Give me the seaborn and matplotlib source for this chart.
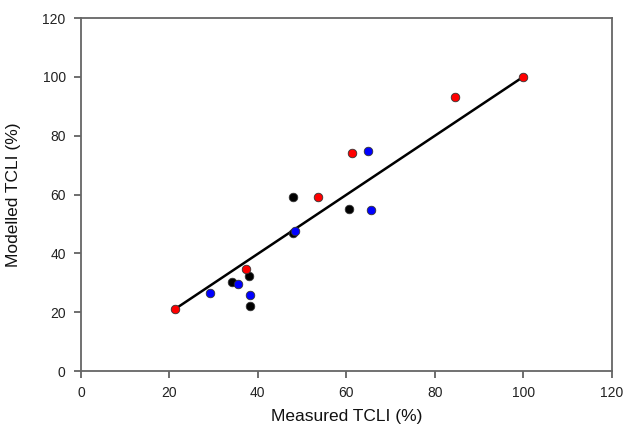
import matplotlib
matplotlib.use("Agg")
import matplotlib.pyplot as plt
import seaborn as sns
import pandas as pd

# Measured vs modelled TCLI (%) per group
red_measured = [21.3, 37.3, 53.5, 61.2, 84.6, 100.0]
red_modelled = [21.1, 34.6, 59.2, 74.0, 93.0, 100.0]

blue_measured = [29.2, 35.6, 38.2, 48.5, 64.8, 65.5]
blue_modelled = [26.4, 29.7, 25.9, 47.6, 74.9, 54.7]

black_measured = [34.1, 38.0, 38.2, 47.9, 47.9, 60.7]
black_modelled = [30.3, 32.4, 22.2, 46.8, 59.1, 55.0]

# 1:1 reference line
line_x = [21.3, 100.0]
line_y = [21.1, 100.0]

x_ticks = [0, 20, 40, 60, 80, 100, 120]
y_ticks = [0, 20, 40, 60, 80, 100, 120]

sns.set_style("white")
plt.rcParams["font.family"] = ["Liberation Sans", "DejaVu Sans"]

fig = plt.figure(figsize=(6.25, 4.26), dpi=100)
ax = fig.add_axes([0.1296, 0.1291, 0.849, 0.8286])

sns.lineplot(x=line_x, y=line_y, ax=ax, color="black", linewidth=1.8, zorder=2)

groups = [
    (black_measured, black_modelled, "#000000"),
    (blue_measured, blue_modelled, "#0000ff"),
    (red_measured, red_modelled, "#ff0000"),
]
for xs, ys, col in groups:
    df = pd.DataFrame({"measured": xs, "modelled": ys})
    sns.scatterplot(data=df, x="measured", y="modelled", ax=ax, color=col,
                    s=38, edgecolor="#333333", linewidth=0.6, zorder=3)

ax.set_xlim(0, 120)
ax.set_ylim(0, 120)
ax.set_xticks(x_ticks)
ax.set_yticks(y_ticks)
ax.tick_params(axis="both", direction="out", length=5, width=1.2,
               color="#555555", labelsize=10, labelcolor="#222222", pad=6,
               bottom=True, left=True)
for sp in ax.spines.values():
    sp.set_color("#666666")
    sp.set_linewidth(1.3)

ax.set_xlabel("Measured TCLI (%)", fontsize=12.5, color="#111111", labelpad=6)
ax.set_ylabel("Modelled TCLI (%)", fontsize=12.5, color="#111111")
ax.yaxis.set_label_coords(-0.113, 0.5)

fig.savefig("out.png", dpi=100)
